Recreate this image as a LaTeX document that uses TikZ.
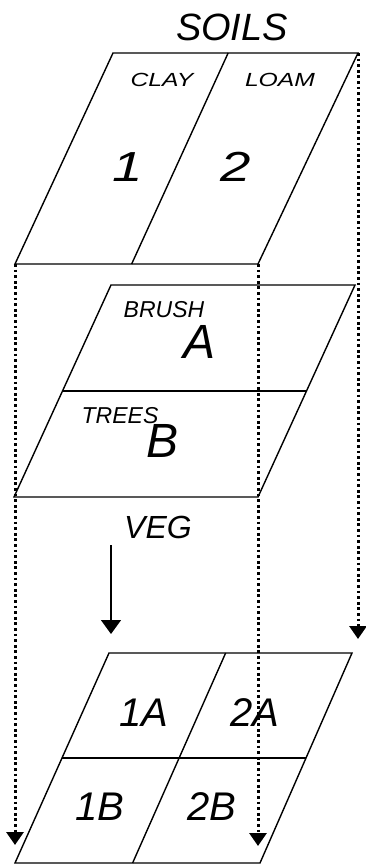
\documentclass[tikz,border=0pt]{standalone}
\usepackage{fontspec}
\setmainfont{Liberation Sans}
\usetikzlibrary{arrows.meta,calc}
\tikzset{
  plate/.style={draw,line width=1.4pt,line join=miter},
  arr/.style={-{Triangle[width=20pt,length=14pt]},line width=1.4pt},
  dotarr/.style={-{Triangle[width=17pt,length=13pt]},line width=3pt,dash pattern=on 2.8pt off 2.8pt},
  lbl/.style={inner sep=0pt,font=\itshape},
  ttl/.style={lbl,font=\fontsize{38}{38}\selectfont\itshape},
  tiny/.style={lbl,font=\fontsize{19}{19}\selectfont\itshape,xscale=1.3,transform shape},
  small/.style={lbl,font=\fontsize{23}{23}\selectfont\itshape},
  num/.style={lbl,font=\fontsize{42}{42}\selectfont\itshape,xscale=1.3,transform shape},
  big/.style={lbl,font=\fontsize{48}{48}\selectfont\itshape},
  mid/.style={lbl,font=\fontsize{32}{32}\selectfont\itshape},
  cell/.style={lbl,font=\fontsize{40}{40}\selectfont\itshape}
}
\begin{document}
\begin{tikzpicture}[x=1pt,y=-1pt]
  \useasboundingbox (0,0) rectangle (366,865);

  % soils
  \coordinate (sTL) at (113,53);
  \coordinate (sTR) at (358,53);
  \coordinate (sBR) at (258,264);
  \coordinate (sBL) at (15,264);
  \draw[plate] (sTL) -- (sTR) -- (sBR) -- (sBL) -- cycle;
  \draw[plate] ($(sTL)!0.47!(sTR)$) -- ($(sBL)!0.48!(sBR)$);
  \node[ttl] (soils) at (232,27) {SOILS};
  \node[tiny] (clay) at (162,80) {CLAY};
  \node[tiny] (loam) at (280,80) {LOAM};
  \node[num] (one) at (128,167) {1};
  \node[num] (two) at (236,167) {2};

  % veg
  \coordinate (vTL) at (111,285);
  \coordinate (vTR) at (355,285);
  \coordinate (vBR) at (258,497);
  \coordinate (vBL) at (14,497);
  \draw[plate] (vTL) -- (vTR) -- (vBR) -- (vBL) -- cycle;
  \draw[plate] ($(vTL)!0.5!(vBL)$) -- ($(vTR)!0.5!(vBR)$);
  \node[small] (brush) at (164,310) {BRUSH};
  \node[big] (a) at (200,342) {A};
  \node[small] (trees) at (120,416) {TREES};
  \node[big] (b) at (163,441) {B};
  \node[mid] (veg) at (158,527) {VEG};

  % overlay
  \coordinate (cTL) at (109,653);
  \coordinate (cTR) at (352,653);
  \coordinate (cBR) at (260,863);
  \coordinate (cBL) at (15,863);
  \draw[plate] (cTL) -- (cTR) -- (cBR) -- (cBL) -- cycle;
  \draw[plate] ($(cTL)!0.5!(cBL)$) -- ($(cTR)!0.5!(cBR)$);
  \draw[plate] ($(cTL)!0.48!(cTR)$) -- ($(cBL)!0.48!(cBR)$);
  \node[cell] (c1a) at (144,713) {1A};
  \node[cell] (c2a) at (255,713) {2A};
  \node[cell] (c1b) at (100,807) {1B};
  \node[cell] (c2b) at (212,807) {2B};

  \coordinate (vegend) at (111,634);
  \coordinate (lend) at (15,845);
  \coordinate (mend) at (258,846);
  \coordinate (rend) at (358,639);

  \draw[arr] (111,545) -- (vegend);
  \draw[dotarr] (sBL) -- (lend);
  \draw[dotarr] (sBR) -- (mend);
  \draw[dotarr] (sTR) -- (rend);
\end{tikzpicture}
\end{document}
